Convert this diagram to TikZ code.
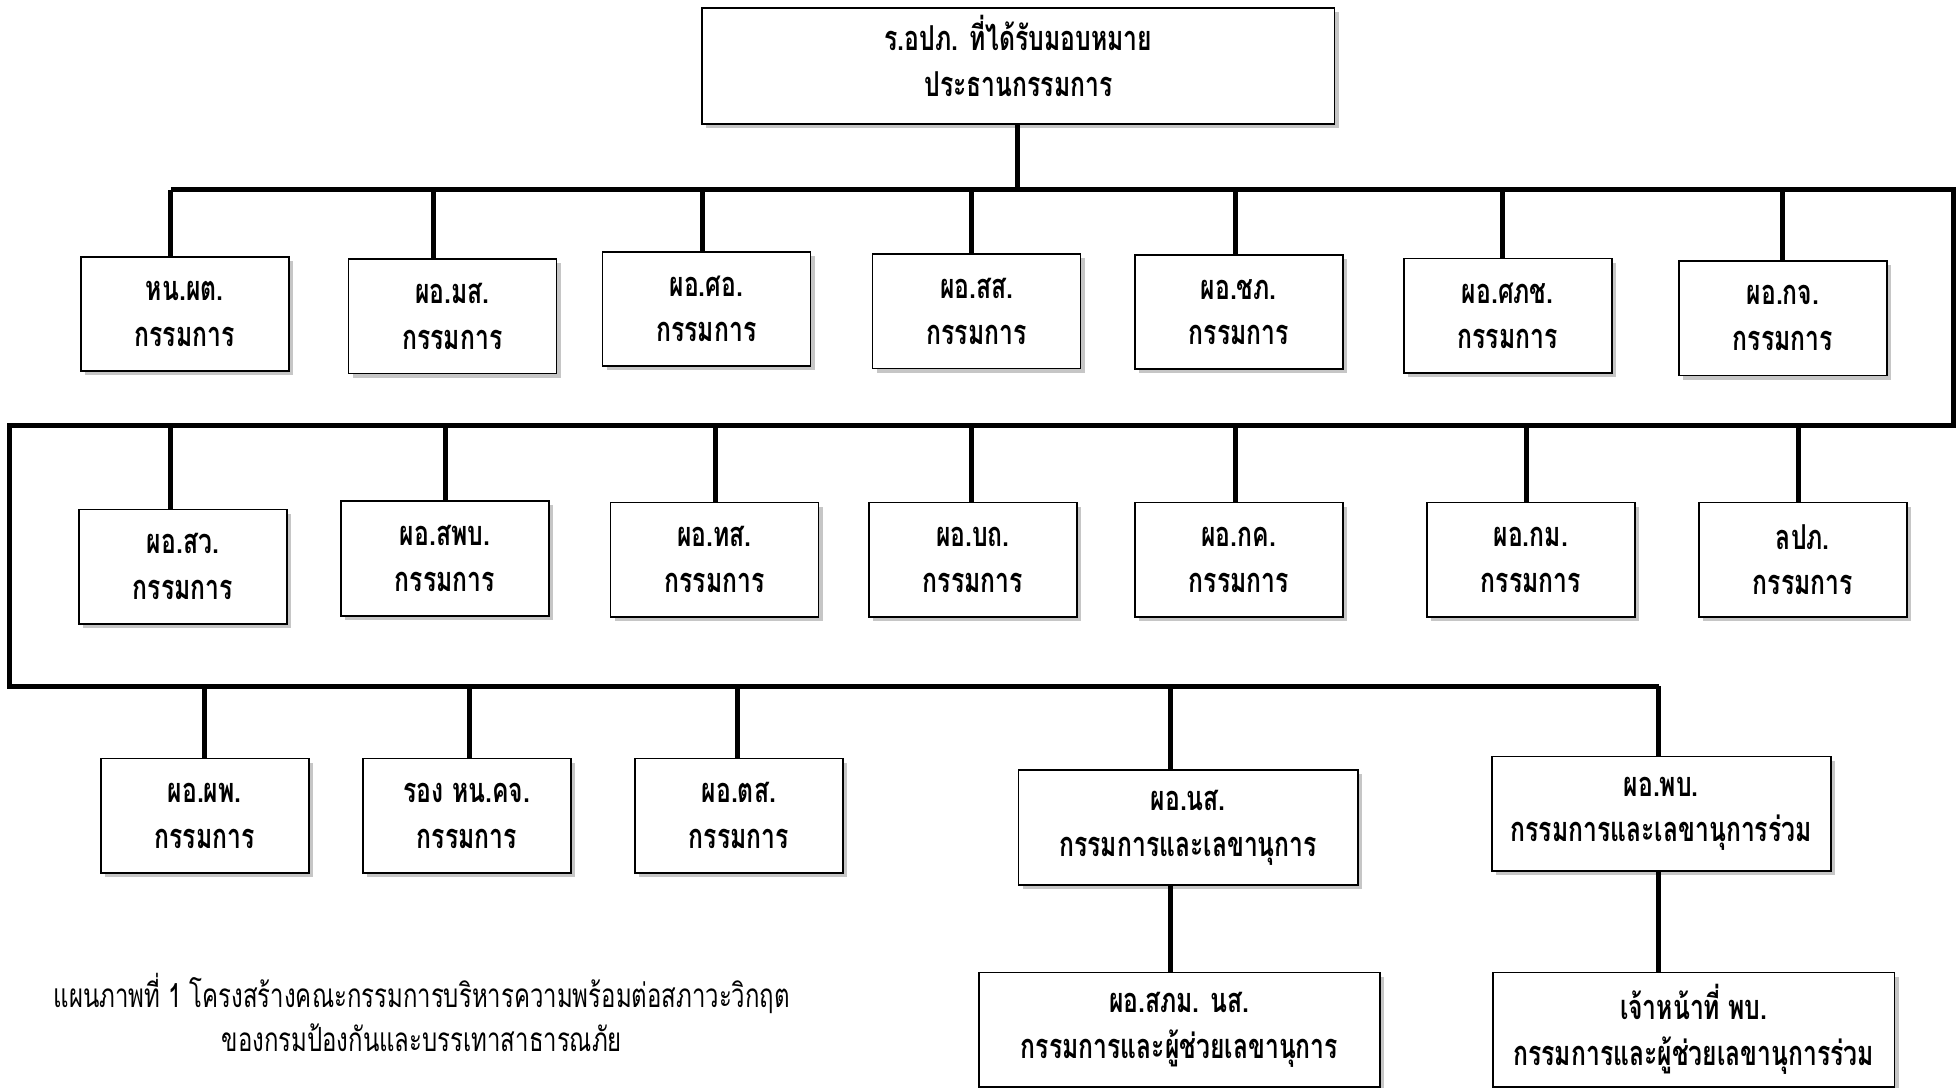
\documentclass[tikz,border=0pt]{standalone}
\usepackage{fontspec}
\newfontfamily\thaifont[Script=Thai,FakeStretch=0.72]{Loma}
\usetikzlibrary{shadows}

\tikzset{%
        every member/.style={
            rectangle,
            draw,
            line width=0.8pt,
            fill=white,
            drop shadow={shadow xshift=2pt, shadow yshift=-2pt, opacity=0.45},
            minimum width=100pt,
            minimum height=55pt,
            align=center,
            font=\thaifont\bfseries\fontsize{16.5}{22}\selectfont
        },
        member wide/.style={minimum width=163pt},
        member wider/.style={minimum width=193pt},
        link/.style={line width=2.4pt}
    }

\begin{document}
\begin{tikzpicture}[x=0.6pt, y=-0.6pt]
        \useasboundingbox (0,0) rectangle (1568,871);

        \node [every member, minimum width=304pt, minimum height=54pt] (chair) at (816,53)
            {ร.อปภ. ที่ได้รับมอบหมาย\\ประธานกรรมการ\rule[-10pt]{0pt}{10pt}};

        % first row
        \foreach \l/\x/\y/\d [count=\i] in {หน.ผต./148/251.5/137, ผอ.มส./362.5/253.5/347,
            ผอ.ศอ./566/247.5/563, ผอ.สส./782.5/249.5/778, ผอ.ชภ./992.5/250/990,
            ผอ.ศภช./1208/253/1204, ผอ.กจ./1428.5/255/1428}
        {
            \node [every member] (row1-\i) at (\x,\y) {\l\\กรรมการ};
            \coordinate (bus1-\i) at (\d,152);
            \draw [link] (bus1-\i) -- (bus1-\i |- row1-\i.north);
        }

        % second row
        \foreach \l/\x/\y/\d [count=\i] in {ผอ.สว./146.5/454/137, ผอ.สพบ./356.5/447.5/357,
            ผอ.ทส./572.5/448.5/573, ผอ.บถ./779.5/448.5/778, ผอ.กค./992.5/448.5/990,
            ผอ.กม./1226.5/448.5/1223, ลปภ./1444.5/448.5/1441}
        {
            \node [every member] (row2-\i) at (\x,\y) {\l\\กรรมการ};
            \coordinate (bus2-\i) at (\d,341);
            \draw [link] (bus2-\i) -- (bus2-\i |- row2-\i.north);
        }

        % third row
        \foreach \l/\x/\d [count=\i] in {ผอ.ผพ./164/164, รอง หน.คจ./374/376, ผอ.ตส./592/591}
        {
            \node [every member] (row3-\i) at (\x,653.5) {\l\\กรรมการ};
            \coordinate (bus3-\i) at (\d,550);
            \draw [link] (bus3-\i) -- (bus3-\i |- row3-\i.north);
        }
        \node [every member, member wide] (row3-4) at (952,663) {ผอ.นส.\\กรรมการและเลขานุการ};
        \node [every member, member wide] (row3-5) at (1331,652) {ผอ.พบ.\\กรรมการและเลขานุการร่วม};
        \coordinate (bus3-4) at (938,550);
        \coordinate (bus3-5) at (1329,550);
        \draw [link] (bus3-4) -- (bus3-4 |- row3-4.north);
        \draw [link] (bus3-5) -- (bus3-5 |- row3-5.north);

        % assistants
        \node [every member, member wider] (assist-1) at (945,825) {ผอ.สภม. นส.\\กรรมการและผู้ช่วยเลขานุการ};
        \node [every member, member wider] (assist-2) at (1357,825) {เจ้าหน้าที่ พบ.\\กรรมการและผู้ช่วยเลขานุการร่วม};
        \draw [link] (bus3-4 |- row3-4.south) -- (bus3-4 |- assist-1.north);
        \draw [link] (bus3-5 |- row3-5.south) -- (bus3-5 |- assist-2.north);

        % bus lines
        \coordinate (turn-1) at (1565,152);
        \coordinate (turn-2) at (1565,341);
        \coordinate (turn-3) at (8,341);
        \coordinate (turn-4) at (8,550);
        \draw [link] (chair.south -| 815,0) -- (815,152);
        \draw [link] (bus1-1) -- (turn-1) -- (turn-2) -- (turn-3) -- (turn-4) -- (bus3-5);

        \node [align=center, font=\thaifont\fontsize{16}{21}\selectfont] (caption) at (338,811)
            {แผนภาพที่ 1 โครงสร้างคณะกรรมการบริหารความพร้อมต่อสภาวะวิกฤต\\ของกรมป้องกันและบรรเทาสาธารณภัย};
    \end{tikzpicture}
\end{document}
